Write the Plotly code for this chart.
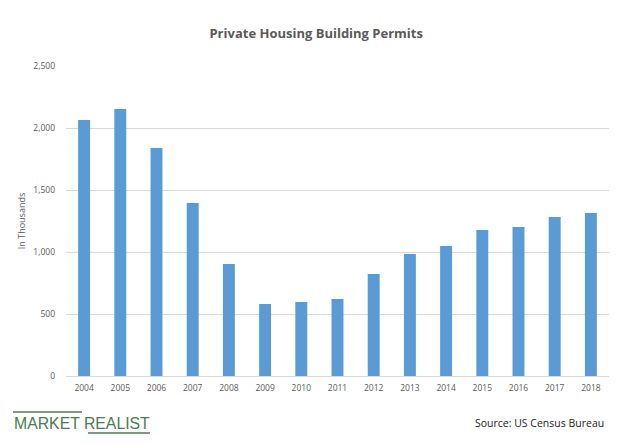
import plotly.graph_objects as go

years = ["2004", "2005", "2006", "2007", "2008", "2009", "2010", "2011",
         "2012", "2013", "2014", "2015", "2016", "2017", "2018"]
permits = [2065, 2153, 1839, 1395, 903, 581, 597, 621,
           823, 984, 1048, 1177, 1202, 1282, 1315]
y_ticks = [0, 500, 1000, 1500, 2000, 2500]
y_tick_labels = ["0", "500", "1,000", "1,500", "2,000", "2,500"]

fig = go.Figure(go.Bar(x=years, y=permits, marker_color="#5b9bd5",
                       marker_line_width=0, width=0.33))

grey = "#595959"
fig.update_layout(
    width=620, height=445,
    margin=dict(l=66, r=11, t=66, b=69),
    paper_bgcolor="white", plot_bgcolor="white",
    font=dict(family="Open Sans, Liberation Sans, sans-serif", color=grey),
    title=dict(text="<b>Private Housing Building Permits</b>", x=0.51, xanchor="center",
               y=1 - 33.5 / 445, yanchor="middle",
               font=dict(size=13, color=grey, family="Open Sans, sans-serif")),
    showlegend=False,
    xaxis=dict(showgrid=False, showline=True, linecolor="#d9d9d9", linewidth=1,
               ticks="", tickfont=dict(size=8.5, color=grey), ticklabelstandoff=4),
    yaxis=dict(range=[0, 2500], tickvals=y_ticks, ticktext=y_tick_labels,
               showgrid=True, gridcolor="#d9d9d9", gridwidth=1, zeroline=False,
               ticks="", tickfont=dict(size=8.5, color=grey), ticklabelstandoff=10,
               title=dict(text="In Thousands", font=dict(size=9, color=grey), standoff=6)),
)

green = "#4a7c4e"
fig.add_annotation(text="MARKET REALIST", xref="paper", yref="paper",
                   x=(12 - 66) / 543, y=-(423 - 376) / 310, xanchor="left", yanchor="middle",
                   showarrow=False, font=dict(size=15.8, color=green, family="Liberation Sans, Arial, sans-serif"))
fig.add_shape(type="line", xref="paper", yref="paper",
              x0=(13 - 66) / 543, x1=(82 - 66) / 543,
              y0=-(412 - 376) / 310, y1=-(412 - 376) / 310,
              line=dict(color=green, width=1.5))
fig.add_shape(type="line", xref="paper", yref="paper",
              x0=(88 - 66) / 543, x1=(150 - 66) / 543,
              y0=-(433 - 376) / 310, y1=-(433 - 376) / 310,
              line=dict(color=green, width=1.5))
fig.add_annotation(text="Source: US Census Bureau", xref="paper", yref="paper",
                   x=(473 - 66) / 543, y=-(423 - 376) / 310, xanchor="left", yanchor="middle",
                   showarrow=False, font=dict(size=10.5, color="#222222"))

fig.write_html("out.html")
